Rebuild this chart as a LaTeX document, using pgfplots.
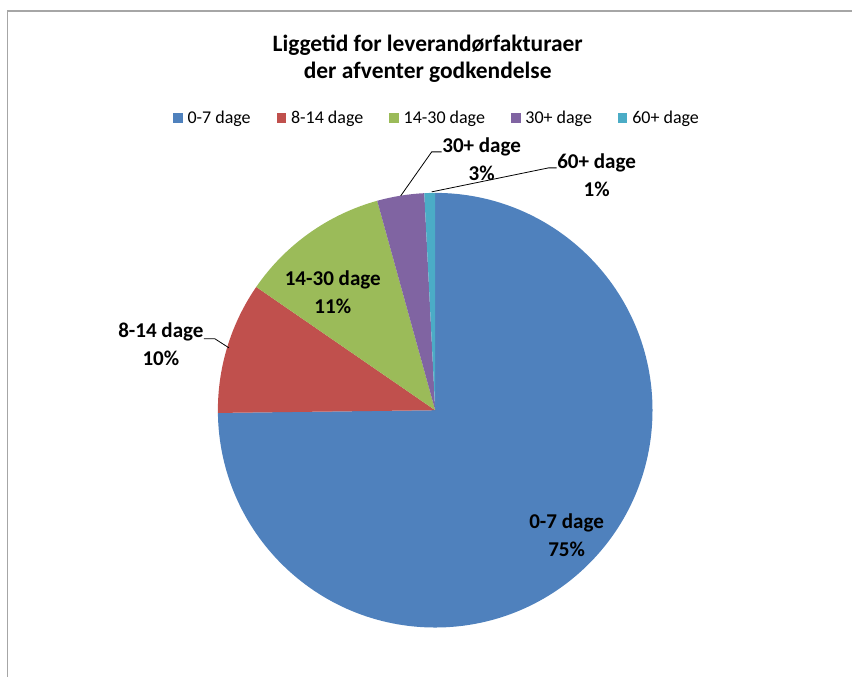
\documentclass[border=0pt]{standalone}
\usepackage{pgfplots}
\pgfplotsset{compat=1.18}
\usepackage{pgfplotstable}
\usepackage{fontspec}
\setmainfont{Carlito}
\definecolor{c1}{HTML}{4F81BD}
\definecolor{c2}{HTML}{C0504D}
\definecolor{c3}{HTML}{9BBB59}
\definecolor{c4}{HTML}{8064A2}
\definecolor{c5}{HTML}{4BACC6}
\definecolor{frame}{HTML}{A6A6A6}
\pgfplotstableread{
value
74.8
9.8
11.1
3.5
0.8
}\piedata
\begin{document}
\begin{tikzpicture}
\pgfmathsetmacro\aA{90}
\pgfplotstablegetelem{0}{value}\of\piedata \pgfmathsetmacro\aB{\aA-3.6*\pgfplotsretval}
\pgfplotstablegetelem{1}{value}\of\piedata \pgfmathsetmacro\aC{\aB-3.6*\pgfplotsretval}
\pgfplotstablegetelem{2}{value}\of\piedata \pgfmathsetmacro\aD{\aC-3.6*\pgfplotsretval}
\pgfplotstablegetelem{3}{value}\of\piedata \pgfmathsetmacro\aE{\aD-3.6*\pgfplotsretval}
\pgfplotstablegetelem{4}{value}\of\piedata \pgfmathsetmacro\aF{\aE-3.6*\pgfplotsretval}
\def\R{163.1pt}
\begin{axis}[
  x=0.75pt, y=0.75pt,
  xmin=0, xmax=853, ymin=0, ymax=677,
  hide axis, clip=false,
  legend columns=5,
  legend style={at={(axis cs:439,559)}, anchor=center, draw=none, fill=none,
    font=\fontsize{13.5}{16}\selectfont,
    /tikz/every even column/.append style={column sep=15.5pt},
    nodes={inner xsep=4pt},
    inner sep=0pt},
  legend cell align=left,
]
\path (axis cs:0,0) rectangle (axis cs:853,677);
\draw[frame, line width=0.9pt] (axis cs:7.5,0) -- (axis cs:7.5,666) -- (axis cs:853,666);
\fill[c1] (axis cs:435.5,266.5) -- ++(\aA:\R) arc[start angle=\aA, end angle=\aB, radius=\R] -- cycle;
\fill[c2] (axis cs:435.5,266.5) -- ++(\aB:\R) arc[start angle=\aB, end angle=\aC, radius=\R] -- cycle;
\fill[c3] (axis cs:435.5,266.5) -- ++(\aC:\R) arc[start angle=\aC, end angle=\aD, radius=\R] -- cycle;
\fill[c4] (axis cs:435.5,266.5) -- ++(\aD:\R) arc[start angle=\aD, end angle=\aE, radius=\R] -- cycle;
\fill[c5] (axis cs:435.5,266.5) -- ++(\aE:\R) arc[start angle=\aE, end angle=\aF, radius=\R] -- cycle;
\addlegendimage{legend image code/.code={\fill[c1] (0pt,-3.2pt) rectangle (6.4pt,3.2pt);}}
\addlegendentry{0-7 dage}
\addlegendimage{legend image code/.code={\fill[c2] (0pt,-3.2pt) rectangle (6.4pt,3.2pt);}}
\addlegendentry{8-14 dage}
\addlegendimage{legend image code/.code={\fill[c3] (0pt,-3.2pt) rectangle (6.4pt,3.2pt);}}
\addlegendentry{14-30 dage}
\addlegendimage{legend image code/.code={\fill[c4] (0pt,-3.2pt) rectangle (6.4pt,3.2pt);}}
\addlegendentry{30+ dage}
\addlegendimage{legend image code/.code={\fill[c5] (0pt,-3.2pt) rectangle (6.4pt,3.2pt);}}
\addlegendentry{60+ dage}
% title
\node[font=\bfseries\fontsize{17.6}{20.5}\selectfont, align=center] at (axis cs:428,618) {Liggetid for leverandørfakturaer\\der afventer godkendelse};
% data labels
\node[font=\bfseries\fontsize{15.8}{21}\selectfont, align=center] at (axis cs:567,141) {0-7 dage\\75\%};
\node[font=\bfseries\fontsize{15.8}{21}\selectfont, align=center] at (axis cs:333,385) {14-30 dage\\11\%};
\node[font=\bfseries\fontsize{15.8}{21}\selectfont, align=center] at (axis cs:161,333) {8-14 dage\\10\%};
\node[font=\bfseries\fontsize{15.8}{21}\selectfont, align=center] at (axis cs:482,518) {30+ dage\\3\%};
\node[font=\bfseries\fontsize{15.8}{21}\selectfont, align=center] at (axis cs:597,502) {60+ dage\\1\%};
% leader lines
\draw[black, line width=0.6pt] (axis cs:204,338) -- (axis cs:215,338) -- (axis cs:229,329);
\draw[black, line width=0.6pt] (axis cs:442,525) -- (axis cs:432,525) -- (axis cs:401,481);
\draw[black, line width=0.6pt] (axis cs:557,509) -- (axis cs:549,509) -- (axis cs:432,485);
\end{axis}
\end{tikzpicture}
\end{document}
